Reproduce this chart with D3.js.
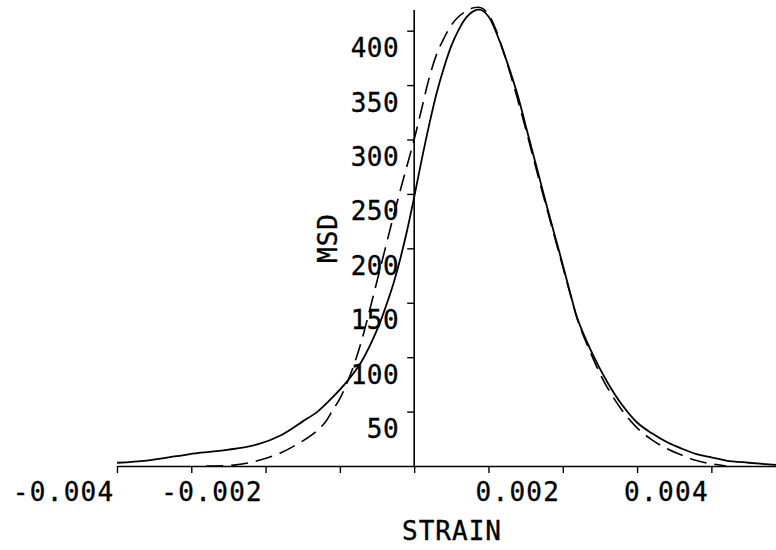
<!DOCTYPE html>
<html>
<head>
<meta charset="utf-8">
<script src="https://cdn.jsdelivr.net/npm/d3@7"></script>
<style>
  body { margin: 0; background: #fff; }
  svg text { font-family: "DejaVu Sans Mono", "Liberation Mono", monospace; fill: #000; stroke: #000; stroke-width: 0.35px; }
</style>
</head>
<body>
<svg class="chart"></svg>
<script>
// measured curve (solid)
var measStrain = [-0.004, -0.0036, -0.0032, -0.0029, -0.0025, -0.0021, -0.0018, -0.0015, -0.0013, -0.0011,
  -0.0009, -0.0007, -0.0005, -0.0004, -0.0003, -0.0002, -0.0001, 0, 0.0001, 0.0002,
  0.0003, 0.0004, 0.0005, 0.0006, 0.0007, 0.0008, 0.0009, 0.001, 0.0011, 0.0012,
  0.0013, 0.0014, 0.0015, 0.0016, 0.0017, 0.0018, 0.0019, 0.002, 0.0021, 0.0022,
  0.0024, 0.0026, 0.0028, 0.003, 0.0032, 0.0034, 0.0036, 0.0038, 0.004, 0.0042,
  0.0045, 0.00487];
var measMsd = [3, 5, 9, 12, 15, 20, 28, 41, 50, 63,
  78, 97, 125, 143, 163, 187, 215, 247, 281, 313,
  342, 366, 386, 401, 412, 418, 419, 413, 399, 381,
  361, 339, 313, 287, 261, 235, 210, 185, 159, 135,
  103, 77, 56, 40, 30, 22, 16, 11, 8, 5,
  3, 1];

// fitted curve (dashed)
var fitStrain = [-0.0028, -0.0024, -0.0021, -0.0018, -0.00155, -0.00135, -0.0012, -0.0011, -0.001, -0.0009,
  -0.0008, -0.0007, -0.0006, -0.0005, -0.0004, -0.0003, -0.0002, -0.0001, 0, 0.0001,
  0.0002, 0.0003, 0.0004, 0.0005, 0.0006, 0.0007, 0.0008, 0.0009, 0.001, 0.0011,
  0.0012, 0.0013, 0.0014, 0.0015, 0.0016, 0.0017, 0.0018, 0.0019, 0.002, 0.0021,
  0.0022, 0.0023, 0.0024, 0.0025, 0.0026, 0.0028, 0.003, 0.0032, 0.0034, 0.0036,
  0.0038, 0.004, 0.0042];
var fitMsd = [0, 1, 5, 12, 21, 30, 40, 51, 62, 77,
  95, 117, 143, 170, 197, 224, 250, 275, 300, 328,
  356, 378, 393, 405, 413, 418, 421, 421, 415, 401,
  381, 359, 335, 310, 284, 258, 233, 208, 183, 158,
  134, 116, 100, 85, 72, 51, 35, 24, 16, 10,
  5, 2, 0];

var xTicks = [-0.004, -0.003, -0.002, -0.001, 0, 0.001, 0.002, 0.003, 0.004];
var xLabels = ["-0.004", "", "-0.002", "", "", "", "0.002", "", "0.004"];
var yTicks = [50, 100, 150, 200, 250, 300, 350, 400];

var width = 776, height = 550;

var x = d3.scaleLinear()
    .domain([-0.004, 0.00487])
    .range([117, 776]);

var y = d3.scaleLinear()
    .domain([0, 419])
    .range([466, 10]);

var chart = d3.select('.chart')
    .attr('width', width)
    .attr('height', height);

// x axis
var xAxis = d3.axisBottom(x)
    .tickValues(xTicks)
    .tickSize(7)
    .tickSizeOuter(0)
    .tickPadding(10)
    .tickFormat(function(d, i) { return xLabels[i]; });

var gx = chart.append('g')
    .attr('transform', 'translate(0,' + y(0) + ')')
    .call(xAxis);
gx.select('.domain').attr('stroke-width', 1.6);
gx.selectAll('.tick line').attr('stroke-width', 1.4);
gx.selectAll('.tick text')
    .attr('text-anchor', 'end')
    .attr('dx', -3)
    .attr('dy', '0.71em')
    .style('font-size', '26px')
    .style('letter-spacing', '1.3px');

// y axis
var yAxis = d3.axisLeft(y)
    .tickValues(yTicks)
    .tickSize(7)
    .tickSizeOuter(0)
    .tickPadding(8);

var gy = chart.append('g')
    .attr('transform', 'translate(' + x(0) + ',0)')
    .call(yAxis);
gy.select('.domain').attr('d', 'M0,' + y(0) + 'V' + y(419)).attr('stroke-width', 1.6);
gy.selectAll('.tick line').attr('stroke-width', 1.4);
gy.selectAll('.tick text')
    .attr('dy', 26)
    .style('font-size', '26px')
    .style('letter-spacing', '0.5px');

// axis titles
chart.append('text')
    .attr('x', 452)
    .attr('y', 540)
    .style('text-anchor', 'middle')
    .style('font-size', '26px')
    .style('letter-spacing', '1px')
    .text('STRAIN');

chart.append('text')
    .attr('transform', 'translate(337,238) rotate(-90)')
    .style('text-anchor', 'middle')
    .style('font-size', '26px')
    .style('letter-spacing', '1px')
    .text('MSD');

// curves
var line = d3.line()
    .x(function(d) { return x(d[0]); })
    .y(function(d) { return y(d[1]); })
    .curve(d3.curveCatmullRom);

chart.append('path')
    .datum(d3.zip(measStrain, measMsd))
    .attr('fill', 'none')
    .attr('stroke', '#000')
    .attr('stroke-width', 1.8)
    .attr('d', line);

chart.append('path')
    .datum(d3.zip(fitStrain, fitMsd))
    .attr('fill', 'none')
    .attr('stroke', '#000')
    .attr('stroke-width', 1.6)
    .attr('stroke-dasharray', '17,8')
    .attr('d', line);
</script>
</body>
</html>
